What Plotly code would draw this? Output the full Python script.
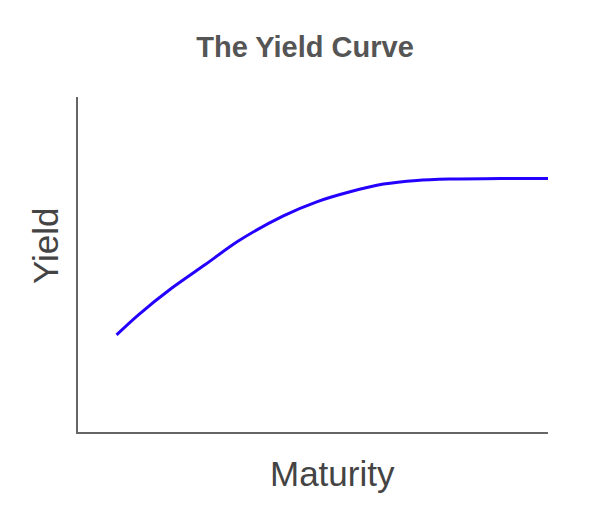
import plotly.graph_objects as go

maturity = [0.82, 1.28, 1.99, 2.70, 3.41, 4.37, 5.08, 5.79, 6.50, 7.21, 7.91, 9.00, 10.0]
yield_vals = [2.90, 3.49, 4.29, 4.99, 5.70, 6.45, 6.87, 7.17, 7.40, 7.51, 7.55, 7.57, 7.57]

title_text = "The Yield Curve"
x_label = "Maturity"
y_label = "Yield"

fig = go.Figure()
fig.add_trace(go.Scatter(
    x=maturity, y=yield_vals, mode="lines",
    line=dict(color="#2400ff", width=3, shape="spline", smoothing=0.8),
    hoverinfo="skip", showlegend=False,
))

fig.update_layout(
    width=600, height=531,
    margin=dict(l=70, r=60, t=89, b=107),
    paper_bgcolor="white", plot_bgcolor="white",
    font=dict(family="Liberation Sans, Arial, sans-serif"),
    title=dict(text="<b>" + title_text + "</b>", x=297 / 600, xanchor="center",
               y=1 - 39 / 531, yanchor="middle",
               font=dict(size=29, color="#555555")),
    xaxis=dict(range=[0, 10], showgrid=False, zeroline=False, showticklabels=False,
               ticks="", showline=True, linecolor="#666666", linewidth=2,
               fixedrange=True),
    yaxis=dict(range=[0, 10], showgrid=False, zeroline=False, showticklabels=False,
               ticks="", showline=True, linecolor="#666666", linewidth=2,
               fixedrange=True),
    annotations=[
        dict(text=x_label, xref="paper", yref="paper",
             x=(332 - 78) / 470, y=-(473 - 432) / 335, xanchor="center", yanchor="middle",
             showarrow=False, font=dict(size=35, color="#444444")),
        dict(text=y_label, xref="paper", yref="paper",
             x=-(78 - 45) / 470, y=(432 - 246) / 335, xanchor="center", yanchor="middle",
             textangle=-90, showarrow=False, font=dict(size=35, color="#444444")),
    ],
)

fig.write_html("out.html")
